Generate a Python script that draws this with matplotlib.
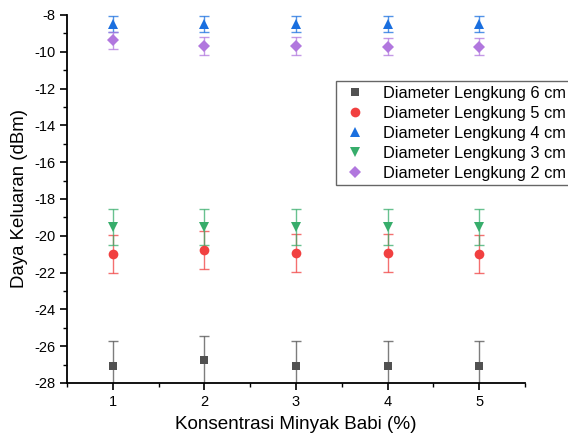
import matplotlib
matplotlib.use("Agg")
import matplotlib.pyplot as plt
from matplotlib.ticker import MultipleLocator

plt.rcParams['font.family'] = ['Liberation Sans', 'DejaVu Sans']

x = [1, 2, 3, 4, 5]
labels = ["Diameter Lengkung 6 cm", "Diameter Lengkung 5 cm", "Diameter Lengkung 4 cm",
          "Diameter Lengkung 3 cm", "Diameter Lengkung 2 cm"]
d6 = [-27.05, -26.75, -27.06, -27.05, -27.06]
d6_err = [1.35, 1.33, 1.35, 1.35, 1.35]
d5 = [-20.97, -20.77, -20.95, -20.92, -20.97]
d5_err = [1.04, 1.05, 1.04, 1.04, 1.04]
d4 = [-8.5, -8.5, -8.5, -8.5, -8.5]
d4_err = [0.43, 0.43, 0.43, 0.43, 0.43]
d3 = [-19.5, -19.52, -19.52, -19.5, -19.5]
d3_err = [0.98, 0.98, 0.98, 0.98, 0.98]
d2 = [-9.38, -9.67, -9.70, -9.72, -9.72]
d2_err = [0.47, 0.48, 0.48, 0.48, 0.48]

series = [d6, d5, d4, d3, d2]
errs = [d6_err, d5_err, d4_err, d3_err, d2_err]
colors = ['#515151', '#F14040', '#1A6FDF', '#37AD6B', '#B177DE']
markers = ['s', 'o', '^', 'v', 'D']
msizes = [6, 7, 7.5, 7.5, 6]

fig = plt.figure(figsize=(5.68, 4.41), dpi=100)
ax = fig.add_axes([67/568, (441-383)/441, (525-67)/568, (383-15)/441])

handles = []
for y, e, c, m, ms, lab in zip(series, errs, colors, markers, msizes, labels):
    ax.errorbar(x, y, yerr=e, fmt='none', ecolor=c, elinewidth=1.0,
                capsize=3.5, capthick=1.0, alpha=0.75, zorder=2)
    h = ax.plot(x, y, linestyle='none', marker=m, markersize=ms, color=c,
                markeredgewidth=0, label=lab, zorder=3)[0]
    handles.append(h)

ax.set_xlim(0.5, 5.5)
ax.set_ylim(-28, -8)
ax.xaxis.set_minor_locator(MultipleLocator(0.5))
ax.yaxis.set_minor_locator(MultipleLocator(1))
ax.set_xticks(x)
ax.set_yticks(range(-28, -7, 2))
ax.set_yticklabels([str(v) for v in range(-28, -7, 2)])

for s in ['top', 'right']:
    ax.spines[s].set_visible(False)
for s in ['left', 'bottom']:
    ax.spines[s].set_linewidth(1.3)
ax.tick_params(which='major', direction='out', length=5, width=1.2, labelsize=10.5, colors='black')
ax.tick_params(which='minor', direction='out', length=3, width=1.0)

ax.set_xlabel("Konsentrasi Minyak Babi (%)", fontsize=13.6, labelpad=5)
ax.set_ylabel("Daya Keluaran (dBm)", fontsize=13.4, labelpad=4)

leg = ax.legend(handles=handles, loc='upper right', bbox_to_anchor=(571/568, 1 - 81/441),
                bbox_transform=fig.transFigure, borderaxespad=0, fontsize=11.8,
                frameon=True, fancybox=False, edgecolor='#404040', labelspacing=0.3,
                handletextpad=0.8, handlelength=1.8, borderpad=0.3)
leg.get_frame().set_linewidth(1.0)

fig.savefig("out.png", dpi=100)
